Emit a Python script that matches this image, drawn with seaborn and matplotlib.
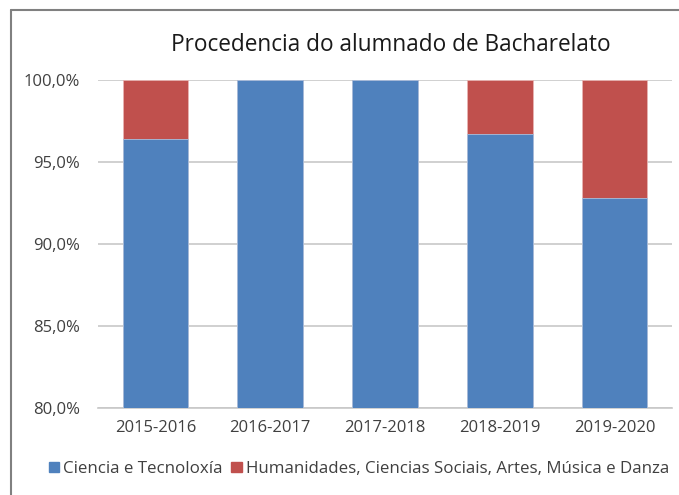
import matplotlib
matplotlib.use("Agg")
import matplotlib.pyplot as plt
import seaborn as sns
import pandas as pd
from matplotlib.ticker import FuncFormatter
from matplotlib.lines import Line2D
from matplotlib.patches import Patch

years = ["2015-2016", "2016-2017", "2017-2018", "2018-2019", "2019-2020"]
ciencia = [96.4, 100.0, 100.0, 96.7, 92.8]
humanidades = [3.6, 0.0, 0.0, 3.3, 7.2]
series_names = ["Ciencia e Tecnoloxía", "Humanidades, Ciencias Sociais, Artes, Música e Danza"]
yticks = [80, 85, 90, 95, 100]

blue = "#4F81BD"
red = "#C0504D"

sns.set_theme(style="white")
plt.rcParams['font.family'] = ['Open Sans', 'DejaVu Sans']

W, H = 679, 495
fig = plt.figure(figsize=(W / 100, H / 100), dpi=100)
ax = fig.add_axes([98 / W, 1 - 408 / H, (672 - 98) / W, (408 - 80) / H])

df = pd.DataFrame({"year": years, "ciencia": ciencia,
                   "total": [c + h for c, h in zip(ciencia, humanidades)]})

sns.barplot(data=df, x="year", y="total", color=red, saturation=1, width=0.57,
            ax=ax, edgecolor="#e8b4b3", linewidth=0.6, zorder=2)
sns.barplot(data=df, x="year", y="ciencia", color=blue, saturation=1, width=0.57,
            ax=ax, edgecolor="#a9c0de", linewidth=0.6, zorder=3)

ax.set_ylim(80, 100)
ax.set_yticks(yticks)
ax.yaxis.set_major_formatter(FuncFormatter(lambda v, p: f"{v:.1f}%".replace(".", ",")))
ax.grid(axis="y", color="#c8c8c8", linewidth=1.2, zorder=0)
ax.set_axisbelow(True)
for s in ["left", "right", "top"]:
    ax.spines[s].set_visible(False)
ax.spines["bottom"].set_color("#c8c8c8")
ax.spines["bottom"].set_linewidth(1.2)
ax.set_xlabel("")
ax.set_ylabel("")
ax.tick_params(axis="both", length=0, labelsize=12, colors="#404040")
ax.tick_params(axis="y", pad=13)
ax.tick_params(axis="x", pad=9)

fig.text(391 / W, 1 - 45 / H, "Procedencia do alumnado de Bacharelato",
         ha="center", va="center", fontsize=16.3, color="#1a1a1a")

handles = [Patch(color=blue), Patch(color=red)]
fig.legend(handles, series_names, loc="center", bbox_to_anchor=(359 / W, 1 - 469 / H),
           ncol=2, frameon=False, fontsize=12.2, handlelength=0.6, handleheight=0.6,
           handletextpad=0.25, columnspacing=0.5, labelcolor="#404040")

fig.add_artist(Line2D([11 / W, 1], [1 - 10 / H, 1 - 10 / H], transform=fig.transFigure,
                      color="#808080", linewidth=1.5))
fig.add_artist(Line2D([11 / W, 11 / W], [0, 1 - 10 / H], transform=fig.transFigure,
                      color="#808080", linewidth=1.5))

fig.savefig("out.png", dpi=100)
